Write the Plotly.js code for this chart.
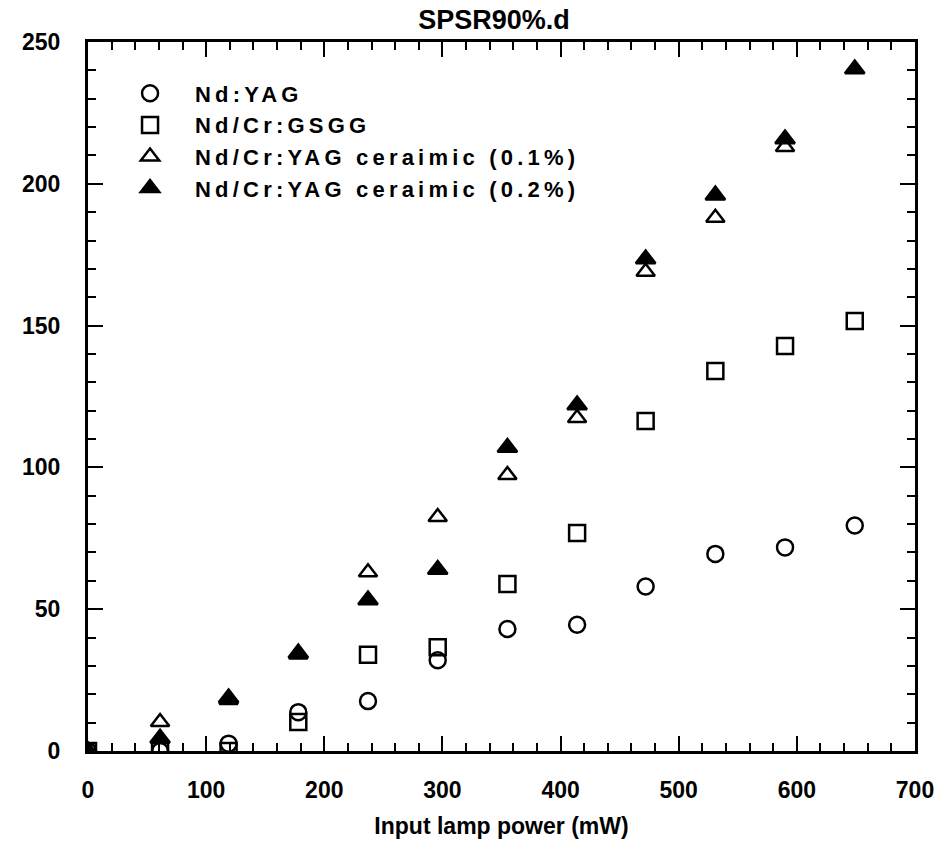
<!DOCTYPE html>
<html>
<head>
<meta charset="utf-8">
<script src="https://cdn.plot.ly/plotly-3.0.1.min.js"></script>
<style>
html,body{margin:0;padding:0;background:#fff;}
#chart{width:944px;height:842px;}
.legendtext{letter-spacing:4.2px;}
</style>
</head>
<body>
<div id="chart"></div>
<script>
// Input lamp power (mW)
const lampPower = [0, 61, 119, 178, 237, 296, 355, 414, 472, 531, 590, 649];
// Output series
const ndYAG       = [0, 0, 2.6, 13.7, 17.6, 32, 43, 44.5, 58, 69.5, 71.8, 79.5];
const ndCrGSGG    = [0, 0, 0, 10.2, 33.9, 36.6, 58.9, 76.9, 116.4, 134, 142.8, 151.6];
const ceramic01   = [0, 10.2, 18, 34, 63, 82.5, 97.3, 117.4, 169, 188, 213, null];
const ceramic02   = [0, 4.5, 18.7, 34.5, 53.2, 64, 107, 122, 173.5, 196, 215.8, 240.5];
const seriesNames = ["Nd:YAG", "Nd/Cr:GSGG", "Nd/Cr:YAG ceraimic (0.1%)", "Nd/Cr:YAG ceraimic (0.2%)"];
const xTicks = [0, 100, 200, 300, 400, 500, 600, 700];
const yTicks = [0, 50, 100, 150, 200, 250];

const mk = (sym, size) => ({
  symbol: sym, size: size, color: '#000',
  line: {color: '#000', width: 2.5}
});

const data = [
  {x: lampPower, y: ndYAG, name: seriesNames[0], mode: 'markers', type: 'scatter',
   marker: mk('circle-open', 16)},
  {x: lampPower, y: ndCrGSGG, name: seriesNames[1], mode: 'markers', type: 'scatter',
   marker: mk('square-open', 16)},
  {x: lampPower, y: ceramic01, name: seriesNames[2], mode: 'markers', type: 'scatter',
   marker: mk('triangle-up-open', 16)},
  {x: lampPower, y: ceramic02, name: seriesNames[3], mode: 'markers', type: 'scatter',
   marker: mk('triangle-up', 17)}
];

const FAM = 'Liberation Sans, Arial, sans-serif';
const fontB = (s) => ({family: FAM, size: s, color: '#000', weight: 'bold'});

const axisCommon = {
  showgrid: false, zeroline: false,
  showline: true, linecolor: '#000', linewidth: 3, mirror: 'allticks',
  ticks: 'inside', ticklen: 15, tickwidth: 2, tickcolor: '#000',
  tickfont: fontB(23)
};

const layout = {
  width: 944, height: 842,
  margin: {l: 88, r: 29, t: 42, b: 91},
  paper_bgcolor: '#fff', plot_bgcolor: '#fff',
  title: {text: 'SPSR90%.d', font: fontB(27), x: 494/944, xanchor: 'center', y: 1 - 20/842, yanchor: 'middle'},
  showlegend: true,
  legend: {x: 0.0206, y: 0.957, xanchor: 'left', yanchor: 'top',
           font: fontB(22),
           bgcolor: 'rgba(0,0,0,0)', itemwidth: 80, tracegroupgap: 0},
  xaxis: Object.assign({}, axisCommon, {
    range: [0, 700], tickvals: xTicks, ticktext: xTicks.map(String),
    minor: {dtick: 20, ticklen: 8, tickwidth: 2, tickcolor: '#000', ticks: 'inside'},
    ticklabelstandoff: 16,
    title: {text: 'Input lamp power (mW)', font: fontB(23), standoff: 17}
  }),
  yaxis: Object.assign({}, axisCommon, {
    range: [0, 250], tickvals: yTicks, ticktext: yTicks.map(String),
    minor: {dtick: 10, ticklen: 8, tickwidth: 2, tickcolor: '#000', ticks: 'inside'},
    ticklabelstandoff: 20
  })
};

Plotly.newPlot('chart', data, layout, {displayModeBar: false, staticPlot: true});
</script>
</body>
</html>
